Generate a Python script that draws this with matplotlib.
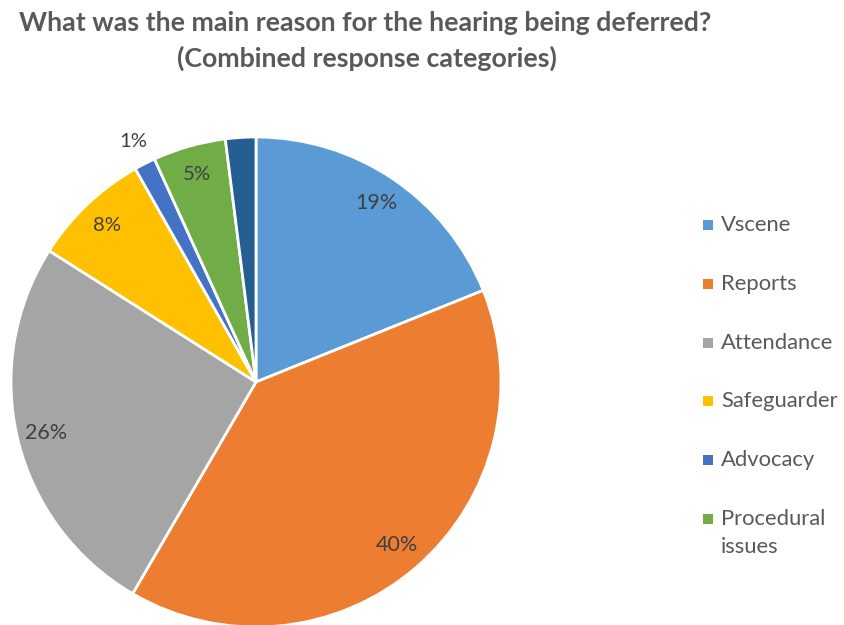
import matplotlib
matplotlib.use('Agg')
import numpy as np
import matplotlib.pyplot as plt
from matplotlib.patches import Rectangle

# ---- data ----
categories = ['Vscene', 'Reports', 'Attendance', 'Safeguarder', 'Advocacy', 'Procedural\nissues', 'Other']
values = [18.9, 39.5, 25.6, 7.8, 1.4, 4.8, 2.0]
pct_labels = ['19%', '40%', '26%', '8%', '1%', '5%', '']
colors = ['#5B9BD5', '#ED7D31', '#A5A5A5', '#FFC000', '#4472C4', '#70AD47', '#255E91']
legend_count = 6
title_lines = ['What was the main reason for the hearing being deferred?',
               '(Combined response categories)']

FONT = ['Lato', 'DejaVu Sans']
W, H = 844, 625
fig = plt.figure(figsize=(W / 100, H / 100), dpi=100)
renderer = fig.canvas.get_renderer()


def fx(x):
    return x / W


def fy(y):
    return 1 - y / H


def fit(t, target_w):
    w = t.get_window_extent(renderer).width
    t.set_fontsize(t.get_fontsize() * target_w / w)


# ---- pie ----
cx, cy, r = 256, 382, 245
ax = fig.add_axes([fx(cx - r), (H - cy - r) / H, 2 * r / W, 2 * r / H])
wedges, _ = ax.pie(values, colors=colors, startangle=90, counterclock=False,
                   radius=1, wedgeprops=dict(edgecolor='white', linewidth=2))
ax.set_xlim(-1, 1)
ax.set_ylim(-1, 1)
ax.axis('off')

for w, lab, v in zip(wedges, pct_labels, values):
    if not lab:
        continue
    mid = np.deg2rad((w.theta1 + w.theta2) / 2)
    d = 1.10 if v < 2 else 0.88
    t = ax.text(d * np.cos(mid), d * np.sin(mid), lab, ha='center', va='center',
                color='#404040', family=FONT, fontsize=12)
    fit(t, 14 * len(lab))

# ---- title ----
t1 = fig.text(fx(365), fy(23), title_lines[0], ha='center', va='center',
              color='#595959', family=FONT, fontweight='bold', fontsize=16)
fit(t1, 695)
t2 = fig.text(fx(367), fy(58), title_lines[1], ha='center', va='center',
              color='#595959', family=FONT, fontweight='bold', fontsize=t1.get_fontsize())

# ---- legend ----
row_y = [225, 284, 343, 401, 460, 519]
leg_texts = []
for i in range(legend_count):
    y = row_y[i]
    fig.patches.append(Rectangle((fx(703), fy(y + 5)), 10 / W, 10 / H,
                                 transform=fig.transFigure, facecolor=colors[i],
                                 edgecolor='none'))
    lines = categories[i].split('\n')
    for j, ln in enumerate(lines):
        t = fig.text(fx(721), fy(y + 28 * j), ln, ha='left', va='center',
                     color='#595959', family=FONT, fontsize=13)
        leg_texts.append(t)
fit(leg_texts[2], 112)
for t in leg_texts:
    t.set_fontsize(leg_texts[2].get_fontsize())

fig.savefig('out.png', dpi=100)
